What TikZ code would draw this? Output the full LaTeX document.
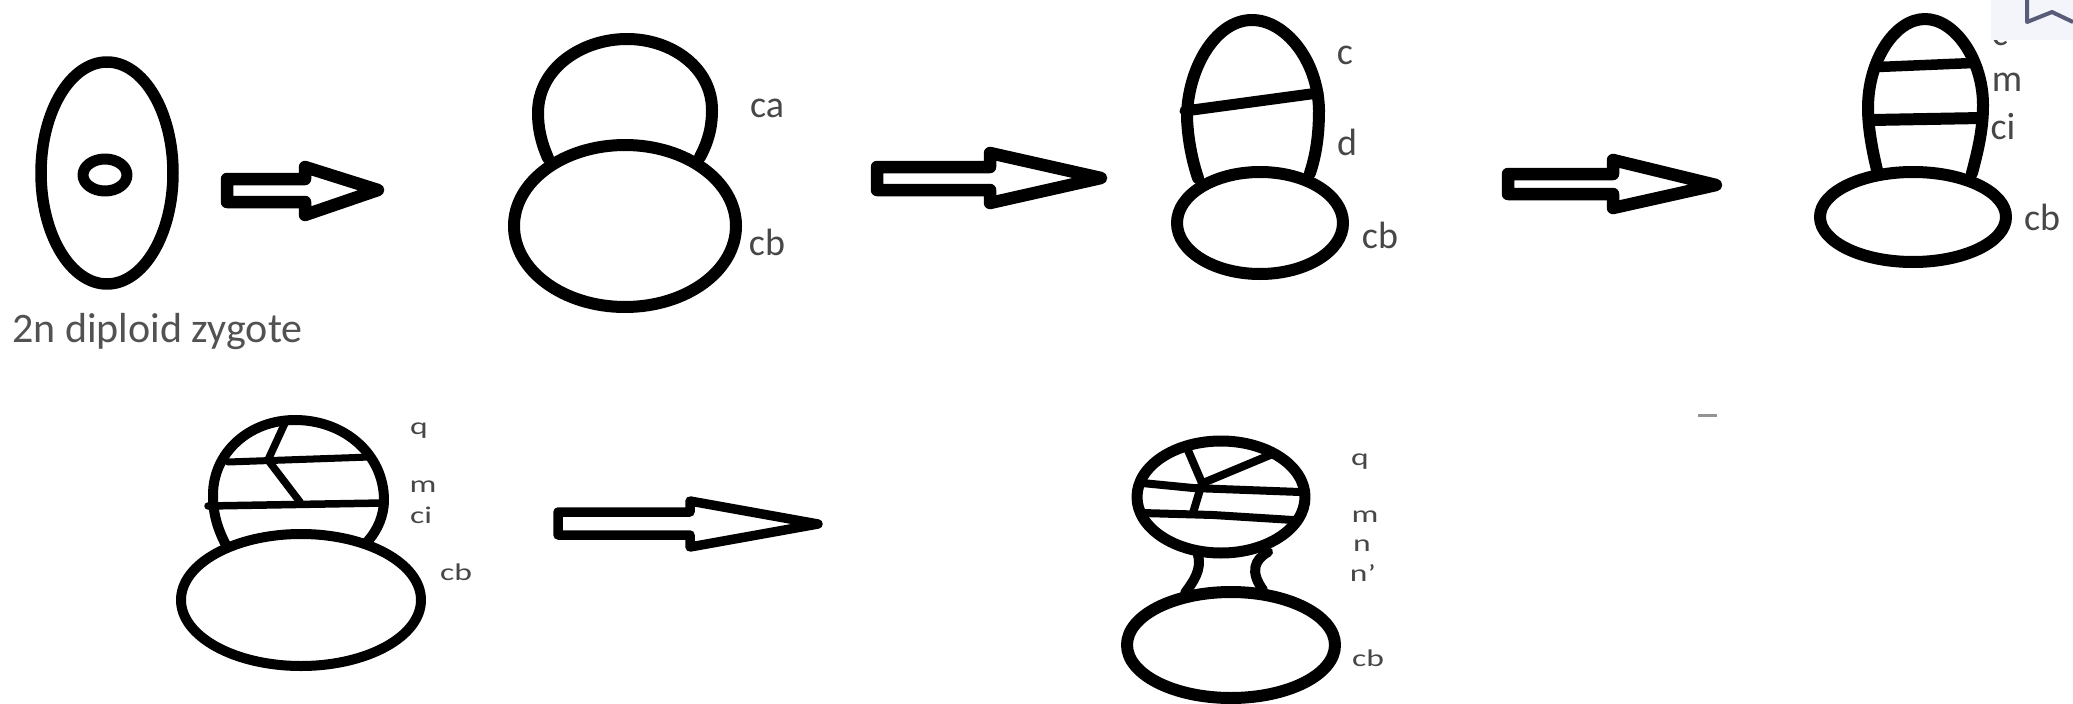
\documentclass[tikz,border=0pt]{standalone}
\usepackage{fontspec}
\setmainfont{Carlito}
\tikzset{
  x=1pt,y=-1pt,
  cell/.style={draw=black,line width=#1,line cap=round,line join=round},
  cell/.default=12pt,
  blockarrow/.style={draw=black,fill=white,line width=#1,line join=round},
  upper/.style={text=black!72,inner sep=0pt,font=\fontsize{38}{40}\selectfont},
  caption/.style={text=black!68,inner sep=0pt,font=\fontsize{42}{46}\selectfont},
  lower/.style={text=black!72,inner sep=0pt,font=\fontsize{24}{28}\selectfont,xscale=1.4,transform shape},
}
\newcommand{\hollowarrow}[9]{%
  \draw[blockarrow=#1] (#2,#4) -- (#3,#4) -- (#3,#6) -- (#8,#9) -- (#3,#7) -- (#3,#5) -- (#2,#5) -- cycle;}
\begin{document}
\begin{tikzpicture}
\useasboundingbox[fill=white] (0,0) rectangle (2073,704);

% Zygote
\draw[cell=11.5pt] (107,173) ellipse [x radius=66pt,y radius=111pt];
\draw[cell=11pt] (105,175) ellipse [x radius=22pt,y radius=16pt];
\node[caption,anchor=base west] (zygote) at (12,342) {2n diploid zygote};

% Two-celled stage
\draw[cell] (625,226) ellipse [x radius=111pt,y radius=81pt];
\draw[cell] (548,158) .. controls (541,142) and (538,128) .. (538,113)
  .. controls (538,68) and (582,39) .. (627,39)
  .. controls (672,39) and (712,68) .. (712,110)
  .. controls (712,128) and (708,142) .. (700,157);
\node[upper] (ca1) at (767,108) {ca};
\node[upper] (cb1) at (767,242) {cb};

% Three-celled stage
\draw[cell] (1260,223) ellipse [x radius=83pt,y radius=51pt];
\draw[cell] (1198,178) .. controls (1192,160) and (1188,140) .. (1187,118)
  .. controls (1187,70) and (1215,20) .. (1252,20)
  .. controls (1285,20) and (1318,60) .. (1319,110)
  .. controls (1319,135) and (1316,155) .. (1310,173);
\draw[cell=11pt] (1185,111) -- (1318,93);
\node[upper] (c2) at (1345,55) {c};
\node[upper] (d2) at (1347,142) {d};
\node[upper] (cb2) at (1380,235) {cb};

% Four-celled stage
\draw[cell] (1913,217) ellipse [x radius=93pt,y radius=45pt];
\draw[cell] (1877,170) .. controls (1871,145) and (1868,125) .. (1868,108)
  .. controls (1868,60) and (1895,19) .. (1925,19)
  .. controls (1955,19) and (1983,60) .. (1983,105)
  .. controls (1983,130) and (1978,150) .. (1972,173);
\draw[cell=10.5pt] (1878,67) -- (1973,63);
\draw[cell] (1872,120) -- (1982,118);
\node[upper] (c3) at (2000,36) {c};
\node[upper] (m3) at (2007,82) {m};
\node[upper] (ci3) at (2003,127) {ci};
\node[upper] (cb3) at (2042,217) {cb};

% Corner panel with its bookmark icon
\fill[fill={rgb,255:red,244;green,245;blue,250}] (1991,0) rectangle (2073,40);
\draw[draw={rgb,255:red,88;green,92;blue,120},line width=4pt,line join=round] (2027,0) -- (2027,22) -- (2052,12) -- (2073,22);

% Quadrant stage
\draw[cell=10pt] (301,600) ellipse [x radius=120pt,y radius=66pt];
\draw[cell=10pt] (227,547) .. controls (218,530) and (213,515) .. (213,495)
  .. controls (213,452) and (250,420) .. (295,420)
  .. controls (345,420) and (384,455) .. (384,500)
  .. controls (384,515) and (378,530) .. (367,542);
\draw[cell=7pt] (228,462) -- (370,457);
\draw[cell=7.5pt] (208,506) -- (383,503);
\draw[cell=7.5pt] (285,423) -- (268,460) -- (300,502);
\node[lower] (q4) at (419,431) {q};
\node[lower] (m4) at (423,487) {m};
\node[lower] (ci4) at (421,515) {ci};
\node[lower] (cb4) at (456,572) {cb};

% Octant stage
\draw[cell] (1231,645) ellipse [x radius=104pt,y radius=53pt];
\draw[cell=11pt] (1221,497) ellipse [x radius=84pt,y radius=56pt];
\draw[cell=10pt] (1198,555) .. controls (1202,570) and (1193,582) .. (1185,593);
\draw[cell=10pt] (1268,552) .. controls (1254,560) and (1250,572) .. (1263,590);
\draw[cell=8pt] (1142,483) -- (1193,488) -- (1300,492);
\draw[cell=8pt] (1142,513) -- (1213,515) -- (1293,520);
\draw[cell=8pt] (1187,448) -- (1202,483) -- (1193,513);
\draw[cell=8pt] (1203,483) -- (1275,453);
\node[lower] (q5) at (1360,462) {q};
\node[lower] (m5) at (1365,517) {m};
\node[lower] (n5) at (1362,546) {n};
\node[lower] (np5) at (1363,573) {n'};
\node[lower] (cb5) at (1368,658) {cb};

% Block arrows between stages: width, tail x, base x, tail top, tail bottom, head top, head bottom, tip x, tip y
\hollowarrow{12.5pt}{227}{305}{179}{202}{167}{215}{378}{190}
\hollowarrow{12.5pt}{877}{990}{167}{190}{153}{203}{1101}{178}
\hollowarrow{12.5pt}{1508}{1613}{174}{194}{160}{208}{1716}{185}
\hollowarrow{9.5pt}{558}{690}{512}{535}{501}{547}{818}{524}

% Stray dash
\draw[draw=black!42,line width=3pt] (1698,415) -- (1717,415);
\end{tikzpicture}
\end{document}
